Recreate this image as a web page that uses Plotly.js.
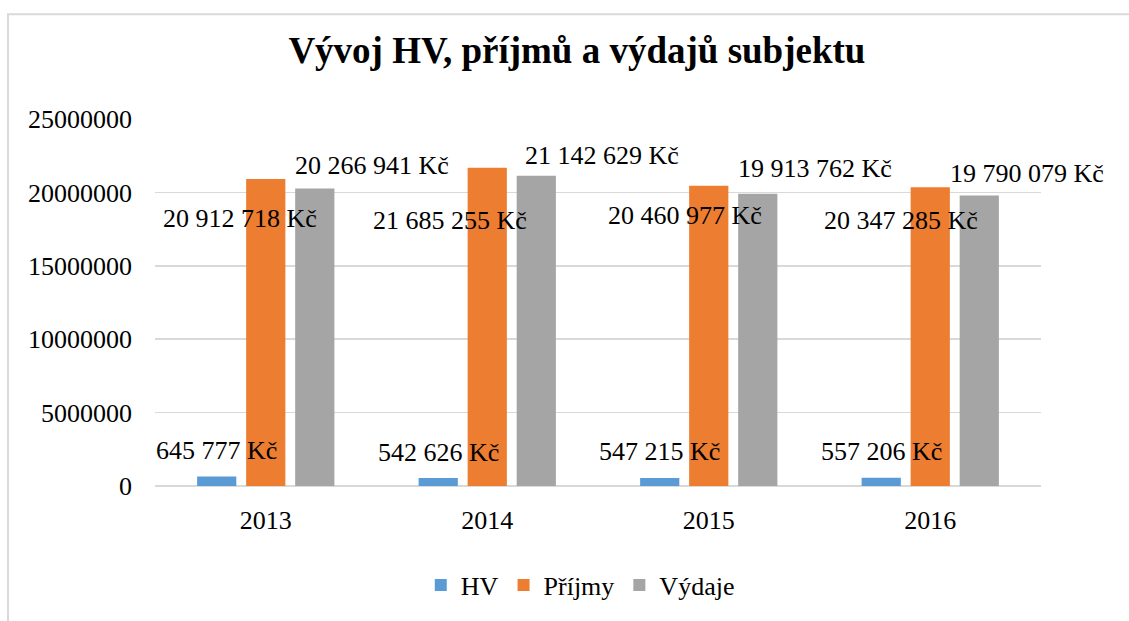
<!DOCTYPE html>
<html>
<head>
<meta charset="utf-8">
<script src="https://cdn.plot.ly/plotly-3.0.1.min.js"></script>
<style>html,body{margin:0;padding:0;background:#fff;}#chart{width:1129px;height:621px;}</style>
</head>
<body>
<div id="chart"></div>
<script>
// ---- data ----
const years = ['2013', '2014', '2015', '2016'];
const hv = [645777, 542626, 547215, 557206];
const prijmy = [20912718, 21685255, 20460977, 20347285];
const vydaje = [20266941, 21142629, 19913762, 19790079];
const seriesNames = ['HV', 'Příjmy', 'Výdaje'];

// ---- label nudges (pixels, relative to bar top centre) ----
const nudgeHV = {dx: [0, 0, 0, 0], dy: [26, 26, 26, 26]};
const nudgePrijmy = {dx: [-26, -37, -24, -29], dy: [-39, -53, -30, -33]};
const nudgeVydaje = {dx: [57, 66, 57, 48], dy: [23, 20, 25, 22]};

const colors = ['#5B9BD5', '#ED7D31', '#A5A5A5'];
const serif = 'Liberation Serif, Times New Roman, serif';

function fmt(v) {
  return String(v).replace(/\B(?=(\d{3})+(?!\d))/g, ' ') + ' Kč';
}

const allSeries = [hv, prijmy, vydaje];
const traces = allSeries.map((vals, i) => ({
  type: 'bar',
  name: seriesNames[i],
  x: years,
  y: vals,
  marker: {color: colors[i]},
  hoverinfo: 'skip'
}));

const nudges = [nudgeHV, nudgePrijmy, nudgeVydaje];
const annotations = [];
const bargap = 0.336;
const slot = (1 - bargap) / 3;
allSeries.forEach((vals, i) => {
  vals.forEach((v, j) => {
    annotations.push({
      x: j + (i - 1) * slot,
      y: v,
      xref: 'x', yref: 'y',
      text: fmt(v),
      showarrow: false,
      xanchor: 'center', yanchor: 'middle',
      xshift: nudges[i].dx[j],
      yshift: nudges[i].dy[j],
      font: {family: serif, size: 26, color: '#000'}
    });
  });
});

const layout = {
  width: 1129, height: 621,
  margin: {l: 155, r: 88, t: 119, b: 131},
  paper_bgcolor: '#fff', plot_bgcolor: '#fff',
  font: {family: serif, color: '#000'},
  barmode: 'group',
  bargap: bargap,
  bargroupgap: 0.2,
  title: {
    text: '<b>Vývoj HV, příjmů a výdajů subjektu</b>',
    font: {family: serif, size: 37, color: '#000'},
    x: 0.511, xanchor: 'center', xref: 'container',
    y: 1 - 50 / 621, yanchor: 'middle', yref: 'container'
  },
  xaxis: {
    type: 'category',
    range: [-0.5, years.length - 0.5],
    autorange: false,
    tickfont: {family: serif, size: 26, color: '#000'},
    showgrid: false, showline: false, zeroline: false,
    ticks: '', ticklabelstandoff: 16
  },
  yaxis: {
    range: [0, 25000000], autorange: false, dtick: 5000000, tick0: 0,
    tickformat: 'd',
    tickfont: {family: serif, size: 26, color: '#000'},
    showgrid: true, gridcolor: '#d9d9d9', gridwidth: 1.5,
    zeroline: true, zerolinecolor: '#d9d9d9', zerolinewidth: 1.5,
    showline: false, ticks: '', ticklabelstandoff: 22
  },
  legend: {
    orientation: 'h',
    x: 0.48, xanchor: 'center',
    y: -0.27, yanchor: 'middle',
    font: {family: serif, size: 26, color: '#000'},
    traceorder: 'normal'
  },
  showlegend: true,
  annotations: annotations,
  shapes: [{
    type: 'rect', xref: 'paper', yref: 'paper',
    x0: (8 - 155) / 886, x1: 1.3,
    y0: -0.5, y1: (490 - 13) / 371,
    line: {color: '#d9d9d9', width: 2},
    fillcolor: 'rgba(0,0,0,0)',
    layer: 'below'
  }]
};

Plotly.newPlot('chart', traces, layout, {displayModeBar: false, staticPlot: true});
</script>
</body>
</html>
